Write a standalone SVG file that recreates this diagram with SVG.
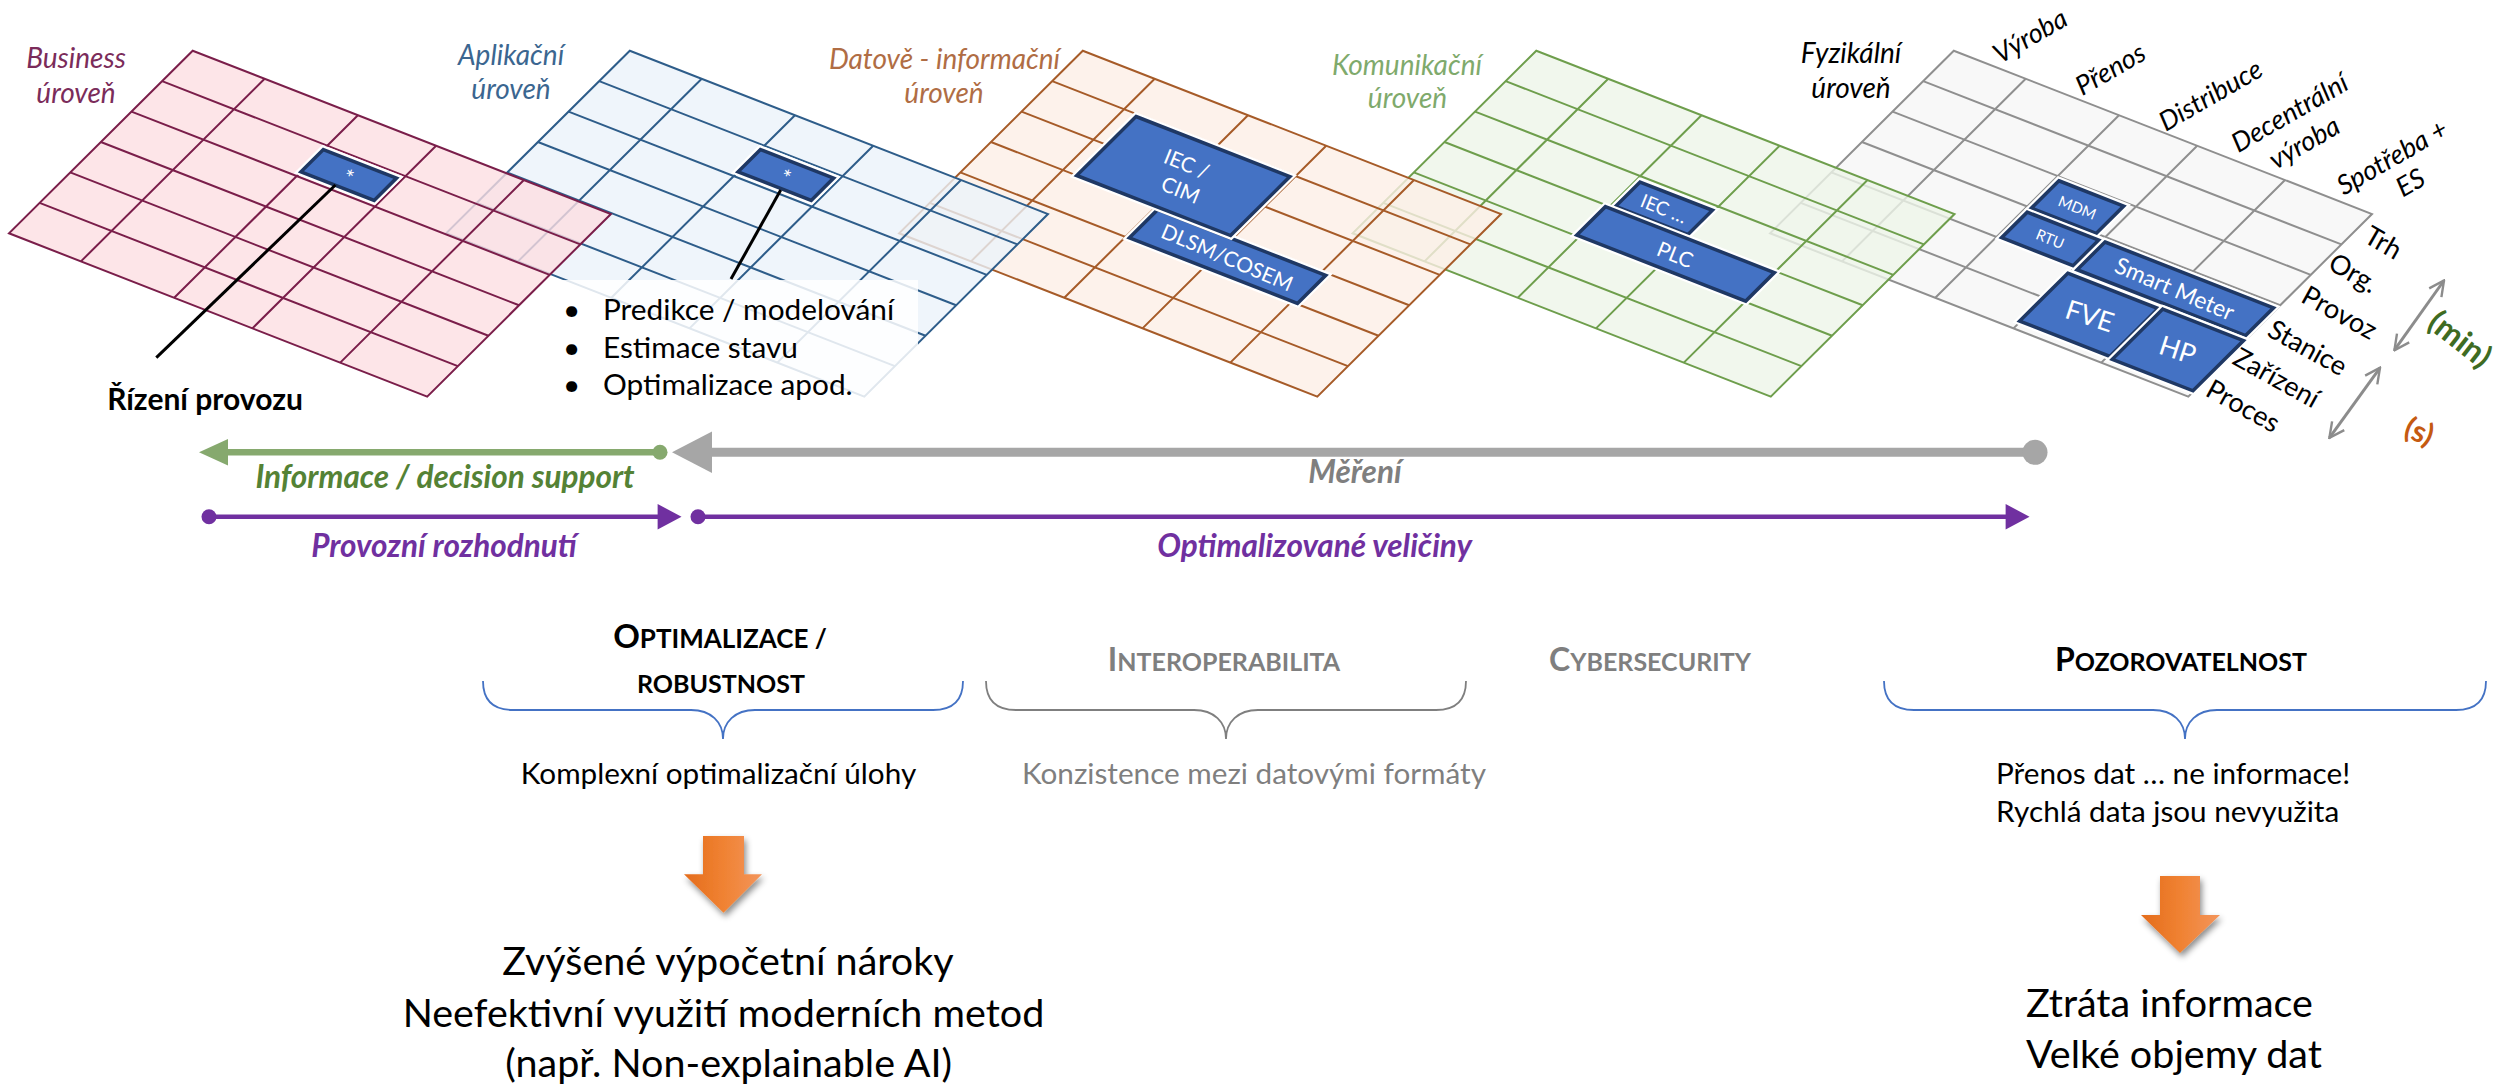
<svg xmlns="http://www.w3.org/2000/svg" xmlns:xlink="http://www.w3.org/1999/xlink" width="2499" height="1090" viewBox="0 0 2499 1090">
<style>
text { font-family: Lato, "Liberation Sans", sans-serif; }
.pl { font-style: italic; font-size: 28px; text-anchor: middle; }
.bx { fill: #ffffff; text-anchor: middle; dominant-baseline: central; }
.box { fill: #4472C4; stroke: #1F3864; stroke-width: 3.5px; stroke-linejoin: miter; }
.boxw { fill: none; stroke: #ffffff; stroke-width: 8px; }
.col { font-style: italic; font-size: 27px; text-anchor: middle; fill: #000; }
.row { font-size: 27px; text-anchor: middle; fill: #000; }
.bi { font-weight: bold; font-style: italic; font-size: 31.5px; text-anchor: middle; }
.hdr { font-weight: bold; text-anchor: middle; }
.sm { font-size: 29.7px; }
.big { font-size: 39.5px; fill: #000; }
.brace { fill: none; stroke-width: 1.8px; }
</style>
<defs>
  <g id="plane">
    <polygon points="0,0 1,0 1,1 0,1" vector-effect="non-scaling-stroke"/>
    <path fill="none" vector-effect="non-scaling-stroke" d="M0,0.1667H1M0,0.3333H1M0,0.5H1M0,0.6667H1M0,0.8333H1M0.172,0V1M0.395,0V1M0.582,0V1M0.792,0V1"/>
  </g>
  <marker id="chev" viewBox="0 0 12 12" refX="11" refY="6" markerWidth="6" markerHeight="6" orient="auto-start-reverse" markerUnits="strokeWidth">
    <path d="M1,1 L11,6 L1,11" fill="none" stroke="#8C8C8C" stroke-width="1.6"/>
  </marker>
  <linearGradient id="og" x1="0" y1="0" x2="1" y2="0">
    <stop offset="0" stop-color="#E46C1C"/>
    <stop offset="0.5" stop-color="#F08232"/>
    <stop offset="1" stop-color="#F3955C"/>
  </linearGradient>
  <filter id="sh" x="-30%" y="-30%" width="160%" height="160%">
    <feDropShadow dx="2" dy="4" stdDeviation="3" flood-color="#000" flood-opacity="0.45"/>
  </filter>
</defs>

<!-- Fyzikální plane -->
<g id="plane-fyzikalni">
  <use xlink:href="#plane" transform="matrix(418.2 163.3 -183.7 182.6 1953.8 50.7)" fill="#F6F6F6" fill-opacity="0.8" stroke="#8F8F8F" stroke-width="2"/>
  <g transform="matrix(418.2 163.3 -183.7 182.6 1953.8 50.7)">
    <polygon class="boxw" vector-effect="non-scaling-stroke" points="0.405,0.35 0.56,0.35 0.56,0.5 0.405,0.5"/>
    <polygon class="box" vector-effect="non-scaling-stroke" points="0.405,0.35 0.56,0.35 0.56,0.5 0.405,0.5"/>
    <polygon class="boxw" vector-effect="non-scaling-stroke" points="0.405,0.522 0.576,0.522 0.576,0.662 0.405,0.662"/>
    <polygon class="box" vector-effect="non-scaling-stroke" points="0.405,0.522 0.576,0.522 0.576,0.662 0.405,0.662"/>
    <polygon class="boxw" vector-effect="non-scaling-stroke" points="0.59,0.52 0.993,0.52 0.993,0.672 0.59,0.672"/>
    <polygon class="box" vector-effect="non-scaling-stroke" points="0.59,0.52 0.993,0.52 0.993,0.672 0.59,0.672"/>
    <polygon class="boxw" vector-effect="non-scaling-stroke" points="0.58,0.7 0.796,0.7 0.796,0.962 0.58,0.962"/>
    <polygon class="box" vector-effect="non-scaling-stroke" points="0.58,0.7 0.796,0.7 0.796,0.962 0.58,0.962"/>
    <polygon class="boxw" vector-effect="non-scaling-stroke" points="0.805,0.695 0.998,0.695 0.998,0.97 0.805,0.97"/>
    <polygon class="box" vector-effect="non-scaling-stroke" points="0.805,0.695 0.998,0.695 0.998,0.97 0.805,0.97"/>
  </g>
  <text class="bx" font-size="15" transform="translate(2077.5,207) rotate(22)">MDM</text>
  <text class="bx" font-size="15" transform="translate(2050.3,238.4) rotate(22)">RTU</text>
  <text class="bx" font-size="23" transform="translate(2175,288) rotate(23)">Smart Meter</text>
  <text class="bx" font-size="27" transform="translate(2090,315) rotate(18)">FVE</text>
  <text class="bx" font-size="27" transform="translate(2178,349) rotate(18)">HP</text>
</g>

<!-- Komunikační plane -->
<g id="plane-komunikacni">
  <use xlink:href="#plane" transform="matrix(418.2 163.3 -183.7 182.6 1536.3 50.7)" fill="#EEF5E8" fill-opacity="0.8" stroke="#6E9E4C" stroke-width="2"/>
  <g transform="matrix(418.2 163.3 -183.7 182.6 1536.3 50.7)">
    <polygon class="boxw" vector-effect="non-scaling-stroke" points="0.405,0.357 0.578,0.357 0.578,0.49 0.405,0.49"/>
    <polygon class="box" vector-effect="non-scaling-stroke" points="0.405,0.357 0.578,0.357 0.578,0.49 0.405,0.49"/>
    <polygon class="boxw" vector-effect="non-scaling-stroke" points="0.388,0.507 0.792,0.507 0.792,0.663 0.388,0.663"/>
    <polygon class="box" vector-effect="non-scaling-stroke" points="0.388,0.507 0.792,0.507 0.792,0.663 0.388,0.663"/>
  </g>
  <text class="bx" font-size="19" transform="translate(1664,208) rotate(22)">IEC …</text>
  <text class="bx" font-size="21" transform="translate(1675.5,253.8) rotate(22)">PLC</text>
</g>

<!-- Datově - informační plane -->
<g id="plane-datove">
  <use xlink:href="#plane" transform="matrix(418.2 163.3 -183.7 182.6 1082.8 50.7)" fill="#FDEFE6" fill-opacity="0.8" stroke="#A65B28" stroke-width="2"/>
  <g transform="matrix(418.2 163.3 -183.7 182.6 1082.8 50.7)">
    <polygon class="boxw" vector-effect="non-scaling-stroke" points="0.403,0.51 0.805,0.51 0.805,0.664 0.403,0.664"/>
    <polygon class="box" vector-effect="non-scaling-stroke" points="0.403,0.51 0.805,0.51 0.805,0.664 0.403,0.664"/>
    <polygon class="boxw" vector-effect="non-scaling-stroke" points="0.205,0.177 0.573,0.177 0.573,0.5 0.205,0.5"/>
    <polygon class="box" vector-effect="non-scaling-stroke" points="0.205,0.177 0.573,0.177 0.573,0.5 0.205,0.5"/>
  </g>
  <text class="bx" font-size="21" transform="translate(1187,163) rotate(22)">IEC /</text>
  <text class="bx" font-size="21" transform="translate(1181,189) rotate(22)">CIM</text>
  <text class="bx" font-size="21" transform="translate(1227.6,256.5) rotate(23)">DLSM/COSEM</text>
</g>

<!-- Aplikační plane -->
<g id="plane-aplikacni">
  <use xlink:href="#plane" transform="matrix(418.2 163.3 -183.7 182.6 629.8 50.7)" fill="#EBF3FA" fill-opacity="0.8" stroke="#2E5D8A" stroke-width="2"/>
  <g transform="matrix(418.2 163.3 -183.7 182.6 629.8 50.7)">
    <polygon class="boxw" vector-effect="non-scaling-stroke" points="0.395,0.188 0.57,0.188 0.57,0.31 0.395,0.31"/>
    <polygon class="box" vector-effect="non-scaling-stroke" points="0.395,0.188 0.57,0.188 0.57,0.31 0.395,0.31"/>
  </g>
  <text class="bx" font-size="22" transform="translate(785.7,177) rotate(22)">*</text>
</g>

<!-- Business plane -->
<g id="plane-business">
  <use xlink:href="#plane" transform="matrix(418.2 163.3 -183.7 182.6 192.7 50.7)" fill="#FDDFE2" fill-opacity="0.8" stroke="#7A1E4A" stroke-width="2"/>
  <g transform="matrix(418.2 163.3 -183.7 182.6 192.7 50.7)">
    <polygon class="boxw" vector-effect="non-scaling-stroke" points="0.395,0.188 0.57,0.188 0.57,0.31 0.395,0.31"/>
    <polygon class="box" vector-effect="non-scaling-stroke" points="0.395,0.188 0.57,0.188 0.57,0.31 0.395,0.31"/>
  </g>
  <text class="bx" font-size="22" transform="translate(348.6,177) rotate(22)">*</text>
</g>

<!-- bullet list box -->
<g id="bullets">
  <rect x="550" y="280" width="368" height="121" fill="#ffffff" fill-opacity="0.85"/>
  <g font-size="29.8" fill="#000">
    <text x="563" y="320">•</text><text x="603" y="320">Predikce / modelování</text>
    <text x="563" y="358">•</text><text x="603" y="358">Estimace stavu</text>
    <text x="563" y="395">•</text><text x="603" y="395">Optimalizace apod.</text>
  </g>
</g>

<!-- plane labels -->
<g id="plane-labels">
  <g fill="#7B2C5A"><text class="pl" x="76" y="68">Business</text><text class="pl" x="76" y="103">úroveň</text></g>
  <g fill="#3B6690"><text class="pl" x="511" y="65">Aplikační</text><text class="pl" x="511" y="99">úroveň</text></g>
  <g fill="#B06D44"><text class="pl" x="944.5" y="69">Datově - informační</text><text class="pl" x="944" y="103">úroveň</text></g>
  <g fill="#7FAA6C"><text class="pl" x="1407" y="75">Komunikační</text><text class="pl" x="1407.5" y="108">úroveň</text></g>
  <g fill="#000"><text class="pl" x="1851" y="63">Fyzikální</text><text class="pl" x="1851" y="98">úroveň</text></g>
</g>

<!-- column labels -->
<g id="column-labels">
  <text class="col" dominant-baseline="central" transform="translate(2029.6,35) rotate(-30)">Výroba</text>
  <text class="col" dominant-baseline="central" transform="translate(2109.8,68.3) rotate(-30)">Přenos</text>
  <text class="col" dominant-baseline="central" transform="translate(2210,94.3) rotate(-30)">Distribuce</text>
  <text class="col" dominant-baseline="central" transform="translate(2289,111.7) rotate(-30)">Decentrální</text>
  <text class="col" dominant-baseline="central" transform="translate(2303.8,141.7) rotate(-30)">výroba</text>
  <text class="col" dominant-baseline="central" transform="translate(2391.6,156) rotate(-30)">Spotřeba +</text>
  <text class="col" dominant-baseline="central" transform="translate(2409.8,181.7) rotate(-30)">ES</text>
</g>

<!-- row labels -->
<g id="row-labels">
  <text class="row" dominant-baseline="central" transform="translate(2384,241.7) rotate(30)">Trh</text>
  <text class="row" dominant-baseline="central" transform="translate(2354,272) rotate(30)">Org.</text>
  <text class="row" dominant-baseline="central" transform="translate(2340,311.7) rotate(29)">Provoz</text>
  <text class="row" dominant-baseline="central" transform="translate(2308.2,346.7) rotate(29)">Stanice</text>
  <text class="row" dominant-baseline="central" transform="translate(2277,376.7) rotate(29)">Zařízení</text>
  <text class="row" dominant-baseline="central" transform="translate(2243.6,405) rotate(29)">Proces</text>
</g>

<!-- connectors -->
<g id="connectors">
  <line x1="335.4" y1="185" x2="156.3" y2="357.7" stroke="#000" stroke-width="3"/>
  <line x1="780.7" y1="190" x2="731" y2="279" stroke="#000" stroke-width="3"/>
  <!-- time scale arrows -->
  <line x1="2444" y1="280.5" x2="2394.4" y2="350.2" stroke="#8C8C8C" stroke-width="3" marker-start="url(#chev)" marker-end="url(#chev)"/>
  <line x1="2380" y1="367.8" x2="2329.4" y2="437.9" stroke="#8C8C8C" stroke-width="3" marker-start="url(#chev)" marker-end="url(#chev)"/>
  <!-- Měření (gray) -->
  <line x1="2035" y1="452.3" x2="705" y2="452.3" stroke="#A6A6A6" stroke-width="9"/>
  <circle cx="2035" cy="452.3" r="12.5" fill="#A6A6A6"/>
  <polygon points="672,452.3 712,431.5 712,473" fill="#A6A6A6"/>
  <!-- Informace (green) -->
  <line x1="660" y1="452.3" x2="222" y2="452.3" stroke="#86A96E" stroke-width="6.5"/>
  <circle cx="660" cy="452.3" r="7.5" fill="#86A96E"/>
  <polygon points="199,452.3 228,439 228,465.5" fill="#86A96E"/>
  <!-- purple -->
  <line x1="209" y1="516.7" x2="660" y2="516.7" stroke="#7030A0" stroke-width="4.5"/>
  <circle cx="209" cy="516.7" r="7.5" fill="#7030A0"/>
  <polygon points="681.5,516.7 657.6,504 657.6,529.4" fill="#7030A0"/>
  <line x1="698" y1="516.7" x2="2008" y2="516.7" stroke="#7030A0" stroke-width="4.5"/>
  <circle cx="698" cy="516.7" r="7.5" fill="#7030A0"/>
  <polygon points="2029.5,516.7 2005.6,504 2005.6,529.4" fill="#7030A0"/>
</g>

<!-- arrow labels -->
<g id="arrow-labels">
  <text x="205" y="410" font-size="30" font-weight="bold" text-anchor="middle" fill="#000">Řízení provozu</text>
  <text class="bi" x="445" y="488" fill="#548235">Informace / decision support</text>
  <text class="bi" x="1355" y="483" fill="#7F7F7F">Měření</text>
  <text class="bi" x="444" y="557" fill="#7030A0">Provozní rozhodnutí</text>
  <text class="bi" x="1314.6" y="557" fill="#7030A0">Optimalizované veličiny</text>
  <text font-size="32" font-weight="bold" fill="#3E6B22" text-anchor="middle" dominant-baseline="central" transform="translate(2461,338) rotate(38)">(min)</text>
  <text font-size="30" font-weight="bold" fill="#C55A11" text-anchor="middle" dominant-baseline="central" transform="translate(2420,430) rotate(22)">(s)</text>
</g>

<!-- headers -->
<g id="headers">
  <text class="hdr" x="720" y="648" fill="#000"><tspan font-size="33">O</tspan><tspan font-size="26">PTIMALIZACE /</tspan></text>
  <text class="hdr" x="721" y="693" fill="#000" font-size="25">ROBUSTNOST</text>
  <text class="hdr" x="1224" y="671" fill="#7F7F7F"><tspan font-size="32">I</tspan><tspan font-size="25">NTEROPERABILITA</tspan></text>
  <text class="hdr" x="1650" y="671" fill="#7F7F7F"><tspan font-size="32">C</tspan><tspan font-size="25">YBERSECURITY</tspan></text>
  <text class="hdr" x="2181" y="671" fill="#000"><tspan font-size="32">P</tspan><tspan font-size="25">OZOROVATELNOST</tspan></text>
</g>

<!-- braces -->
<g id="braces">
  <path class="brace" stroke="#4472C4" d="M483,681 C483,700 493,710 513,710 L691,710 C711,710 723,722 723,739 C723,722 735,710 755,710 L933,710 C953,710 963,700 963,681"/>
  <path class="brace" stroke="#7F7F7F" d="M986,681 C986,700 996,710 1016,710 L1194,710 C1214,710 1226,722 1226,739 C1226,722 1238,710 1258,710 L1436,710 C1456,710 1466,700 1466,681"/>
  <path class="brace" stroke="#4472C4" d="M1884,681 C1884,700 1894,710 1914,710 L2153,710 C2173,710 2185,722 2185,739 C2185,722 2197,710 2217,710 L2456,710 C2476,710 2486,700 2486,681"/>
</g>

<!-- brace texts -->
<g id="notes">
  <text class="sm" x="718.5" y="784" text-anchor="middle" fill="#000">Komplexní optimalizační úlohy</text>
  <text class="sm" x="1254" y="784" text-anchor="middle" fill="#7F7F7F">Konzistence mezi datovými formáty</text>
  <text class="sm" x="1996" y="784" fill="#000">Přenos dat … ne informace!</text>
  <text class="sm" x="1996" y="822" fill="#000">Rychlá data jsou nevyužita</text>
</g>

<!-- orange arrows -->
<g id="orange-arrows" filter="url(#sh)">
  <polygon fill="url(#og)" points="703,836 744,836 744,874.3 762,874.3 723.5,912.7 684,874.3 703,874.3"/>
  <polygon fill="url(#og)" points="2160,876 2200,876 2200,915 2220,915 2180,953 2141,915 2160,915"/>
</g>

<!-- consequences -->
<g id="consequences">
  <text class="big" x="728" y="975" text-anchor="middle">Zvýšené výpočetní nároky</text>
  <text class="big" x="723.5" y="1027" text-anchor="middle">Neefektivní využití moderních metod</text>
  <text class="big" x="728.7" y="1077" text-anchor="middle">(např. Non-explainable AI)</text>
  <text class="big" x="2026" y="1017">Ztráta informace</text>
  <text class="big" x="2026" y="1068">Velké objemy dat</text>
</g>
</svg>
